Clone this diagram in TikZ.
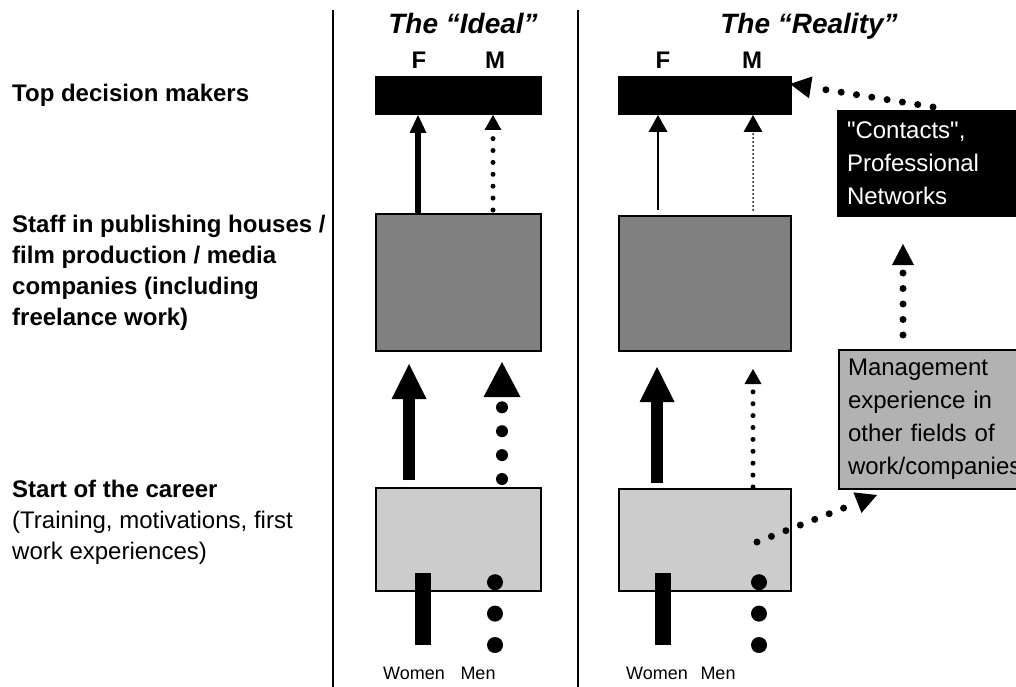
\documentclass[tikz,border=0pt]{standalone}
\usepackage{fontspec}
\setmainfont{Liberation Sans}
\usetikzlibrary{arrows.meta, positioning}
\definecolor{midgray}{HTML}{808080}
\definecolor{startgray}{HTML}{CCCCCC}
\definecolor{mgmtgray}{HTML}{B2B2B2}
\tikzstyle{topbox} = [rectangle, draw=black, line width=2pt, fill=black, inner sep=0pt, anchor=north west]
\tikzstyle{midbox} = [rectangle, draw=black, line width=2pt, fill=midgray, inner sep=0pt, anchor=north west]
\tikzstyle{startbox} = [rectangle, draw=black, line width=2pt, fill=startgray, inner sep=0pt, anchor=north west]
\tikzstyle{sidebox} = [rectangle, draw=black, line width=2pt, inner xsep=9pt, inner ysep=0pt, anchor=north west, text width=190pt, align=left, font=\fontsize{24}{33}\selectfont]
\tikzstyle{rowlabel} = [inner sep=0pt, align=left, font=\fontsize{24}{31}\selectfont]
\tikzstyle{coltitle} = [inner sep=0pt, anchor=base, font=\fontsize{28}{30}\selectfont\bfseries\itshape]
\tikzstyle{sexlabel} = [inner sep=0pt, anchor=base, font=\fontsize{24}{28}\selectfont\bfseries]
\tikzstyle{grouplabel} = [inner sep=0pt, anchor=base, font=\fontsize{18}{20}\selectfont]
\tikzstyle{divider} = [line width=2pt]
\tikzstyle{arrow} = [line width=6pt, -{Triangle[width=17pt,length=18pt,line width=0pt]}]
\tikzstyle{arrowthin} = [line width=2pt, -{Triangle[width=19pt,length=17pt,line width=0pt]}]
\tikzstyle{arrowbig} = [line width=12pt, -{Triangle[width=35pt,length=35pt,line width=0pt]}]
\tikzstyle{dotarrow} = [line width=5pt, line cap=round, dash pattern=on 0pt off 11.9pt, -{Triangle[width=17pt,length=15pt,line width=0pt]}]
\tikzstyle{dotarrowfine} = [line width=2pt, line cap=round, dash pattern=on 0pt off 4pt, -{Triangle[width=19pt,length=17pt,line width=0pt]}]
\tikzstyle{dotarrowbig} = [line width=12pt, line cap=round, dash pattern=on 0pt off 23.9pt, -{Triangle[width=37pt,length=35pt,line width=0pt]}]
\tikzstyle{sidearrow} = [line width=7pt, line cap=round, dash pattern=on 0pt off 15.5pt, -{Triangle[width=22pt,length=21pt,line width=0pt]}]
\tikzstyle{womenbar} = [line width=16pt]
\tikzstyle{mendots} = [line width=16pt, line cap=round, dash pattern=on 0pt off 31.4pt]

\begin{document}
\begin{tikzpicture}[x=1pt, y=-1pt]

\useasboundingbox (0,0) rectangle (1016,687);
\fill[white] (0,0) rectangle (1016,687);
\clip (0,0) rectangle (1016,687);

% Row labels
\node[rowlabel, anchor=base west, font=\fontsize{24}{31}\selectfont\bfseries] (lblTop) at (12,102) {Top decision makers};
\node[rowlabel, anchor=north west, font=\fontsize{24}{31}\selectfont\bfseries] (lblStaff) at (12,215) {Staff in publishing houses /\\film production / media\\companies (including\\freelance work)};
\node[rowlabel, anchor=north west] (lblStart) at (12,480) {\textbf{Start of the career}\\(Training, motivations, first\\work experiences)};

% Dividers
\coordinate (dvI) at (333,10);
\coordinate (dvIb) at (333,687);
\coordinate (dvR) at (578,10);
\coordinate (dvRb) at (578,687);
\draw [divider] (dvI) -- (dvIb);
\draw [divider] (dvR) -- (dvRb);

% Column 1 - The Ideal
\node[coltitle] (titleI) at (463,34) {The “Ideal”};
\node[sexlabel] (lblFI) at (419,69) {F};
\node[sexlabel] (lblMI) at (495,69) {M};
\node[topbox, minimum width=165pt, minimum height=37pt] (topI) at (375,76) {};
\node[midbox, minimum width=165pt, minimum height=137pt] (midI) at (375,213) {};
\node[startbox, minimum width=165pt, minimum height=103pt] (startI) at (375,487) {};
\node[grouplabel] (womenI) at (414,679) {Women};
\node[grouplabel] (menI) at (478,679) {Men};

% Column 2 - The Reality
\node[coltitle] (titleR) at (809,34) {The “Reality”};
\node[sexlabel] (lblFR) at (663,69) {F};
\node[sexlabel] (lblMR) at (752,69) {M};
\node[topbox, minimum width=172pt, minimum height=37pt] (topR) at (618,76) {};
\node[midbox, minimum width=172pt, minimum height=135pt] (midR) at (618,215) {};
\node[startbox, minimum width=172pt, minimum height=102pt] (startR) at (618,488) {};
\node[grouplabel] (womenR) at (657,679) {Women};
\node[grouplabel] (menR) at (718,679) {Men};

% Outside influences
\node[sidebox, fill=black, text=white, minimum height=105pt] (contacts) at (837,110) {\textquotedbl Contacts\textquotedbl,\\Professional\\Networks};
\node[sidebox, fill=mgmtgray, minimum height=139pt] (mgmt) at (838,349) {Management\\experience in\\other fields of\\work/companies};

% Column 1 - Arrows
\coordinate (aFI) at (418,0);
\coordinate (aMI) at (493,0);
\coordinate (bFI) at (409,0);
\coordinate (bMI) at (502,0);
\draw [arrow] (aFI |- midI.north) -- (aFI |- topI.south);
\draw [dotarrow, shorten <=3pt] (aMI |- midI.north) -- (aMI |- topI.south);
\draw [arrowbig, shorten <=7pt, shorten >=12pt] (bFI |- startI.north) -- (bFI |- midI.south);
\draw [dotarrowbig, shorten <=8pt, shorten >=10pt] (bMI |- startI.north) -- (bMI |- midI.south);

\coordinate (wIt) at (423,573);
\coordinate (wIb) at (423,645);
\coordinate (mIt) at (495,582);
\coordinate (mIb) at (495,645);
\draw [womenbar] (wIb) -- (wIt);
\draw [mendots] (mIb) -- (mIt);

% Column 2 - Arrows
\coordinate (aFR) at (658,0);
\coordinate (aMR) at (753,0);
\coordinate (bFR) at (657,0);
\coordinate (bMR) at (753,0);
\draw [arrowthin, shorten <=5pt] (aFR |- midR.north) -- (aFR |- topR.south);
\draw [dotarrowfine, shorten <=5pt] (aMR |- midR.north) -- (aMR |- topR.south);
\draw [arrowbig, shorten <=5pt, shorten >=15pt] (bFR |- startR.north) -- (bFR |- midR.south);
\draw [dotarrow, shorten <=1pt, shorten >=17pt] (bMR |- startR.north) -- (bMR |- midR.south);

\coordinate (wRt) at (663,573);
\coordinate (wRb) at (663,645);
\coordinate (mRt) at (759,582);
\coordinate (mRb) at (759,645);
\draw [womenbar] (wRb) -- (wRt);
\draw [mendots] (mRb) -- (mRt);

% Side arrows
\coordinate (cStart) at (933,107);
\coordinate (cEnd) at (790,84);
\coordinate (uX) at (903,0);
\coordinate (sStart) at (757,542);
\coordinate (sEnd) at (877,495);
\draw [sidearrow] (cStart) -- (cEnd);
\draw [sidearrow, shorten <=14pt, shorten >=27pt] (uX |- mgmt.north) -- (uX |- contacts.south);
\draw [sidearrow] (sStart) -- (sEnd);

\end{tikzpicture}
\end{document}
